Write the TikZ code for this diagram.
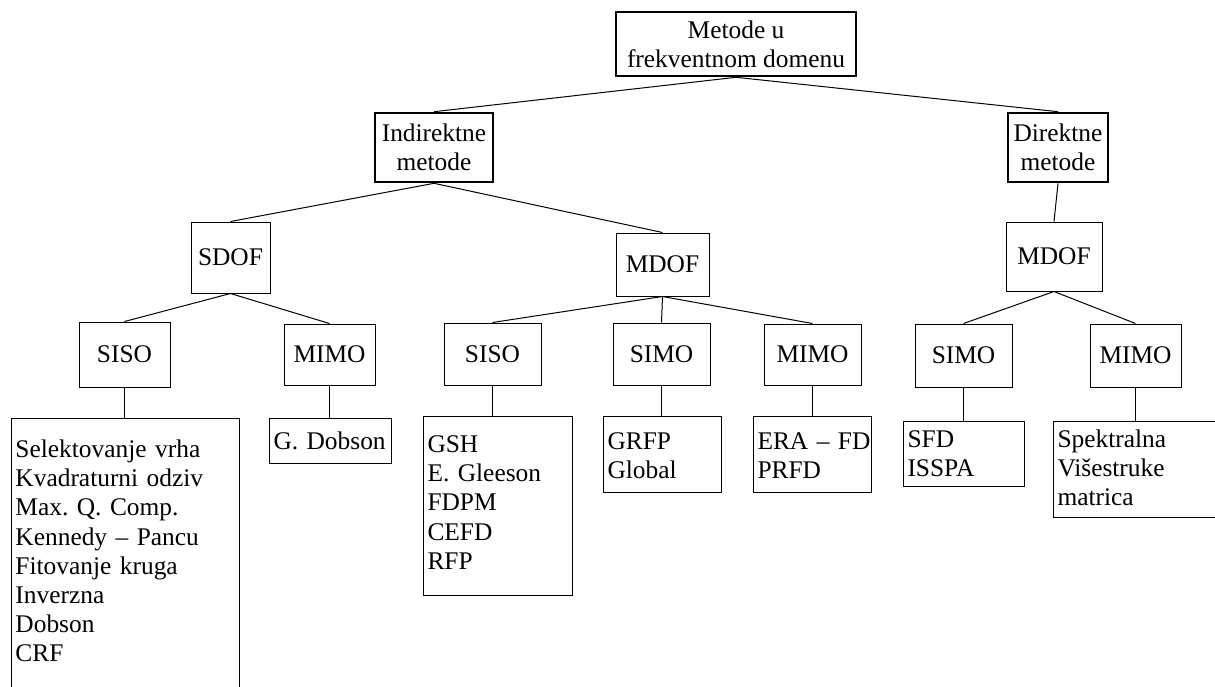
\documentclass[tikz,border=0pt]{standalone}
\usepackage{fontspec}
\setmainfont{Liberation Serif}
\usepackage{tikz}
\frenchspacing

\begin{document}
\begin{tikzpicture}[x=0.5pt,y=-0.5pt,
	every node/.style={font=\fontsize{12.7}{14.6}\selectfont},
	box/.style={draw,line width=0.5pt,align=center,inner sep=0pt},
	main/.style={box,line width=1.3pt},
	leaf/.style={draw,line width=0.5pt,anchor=north west,align=left,inner xsep=2pt,inner ysep=0pt},
	conn/.style={line width=0.5pt}]
	\useasboundingbox (0,0) rectangle (1215,686);
	\node[main,minimum width=120pt,minimum height=32pt] (root) at (736,44) {Metode u\\frekventnom domenu};
	\node[main,minimum width=59pt,minimum height=34.5pt] (ind) at (434,147.5) {Indirektne\\metode};
	\node[main,minimum width=50pt,minimum height=34.5pt] (dir) at (1058,147.5) {Direktne\\metode};
	\node[box,minimum width=39.5pt,minimum height=35.5pt] (sdof) at (230.5,257.5) {SDOF};
	\node[box,minimum width=46.5pt,minimum height=31.5pt] (mdof1) at (662.5,264.5) {MDOF};
	\node[box,minimum width=48pt,minimum height=34.5pt] (mdof2) at (1054,256.5) {MDOF};
	\node[box,minimum width=45.5pt,minimum height=32.5pt] (siso1) at (124.5,354.5) {SISO};
	\node[box,minimum width=45.5pt,minimum height=30.5pt] (mimo1) at (329.5,354.5) {MIMO};
	\node[box,minimum width=48.5pt,minimum height=31pt] (siso2) at (492.5,354) {SISO};
	\node[box,minimum width=48.5pt,minimum height=31pt] (simo1) at (661.5,354) {SIMO};
	\node[box,minimum width=48.5pt,minimum height=30.5pt] (mimo2) at (812.5,354.5) {MIMO};
	\node[box,minimum width=48.5pt,minimum height=31.5pt] (simo2) at (963.5,355.5) {SIMO};
	\node[box,minimum width=45.5pt,minimum height=31.5pt] (mimo3) at (1135.5,355.5) {MIMO};
	% method lists
	\node[leaf,text width=110pt,text height=19.5pt,text depth=121.5pt] (list1) at (11,418) {Selektovanje vrha\\Kvadraturni odziv\\Max. Q. Comp.\\Kennedy -- Pancu\\Fitovanje kruga\\Inverzna\\Dobson\\CRF};
	\node[leaf,text width=57pt,text height=15.5pt,text depth=7pt] (list2) at (269,418) {\mbox{G. Dobson}};
	\node[leaf,text width=70.5pt,text height=18pt,text depth=71.5pt] (list3) at (423,416) {GSH\\E. Gleeson\\FDPM\\CEFD\\RFP};
	\node[leaf,text width=55pt,text height=16.5pt,text depth=21.5pt] (list4) at (603,416) {GRFP\\Global};
	\node[leaf,text width=55pt,text height=16.5pt,text depth=21.5pt] (list5) at (753,416) {\mbox{ERA -- FD}\\PRFD};
	\node[leaf,text width=56.5pt,text height=13pt,text depth=19.5pt] (list6) at (903,421) {SFD\\ISSPA};
	\node[leaf,text width=86pt,text height=13pt,text depth=35pt] (list7) at (1053,421) {Spektralna\\Višestruke\\matrica};
	\draw[conn] (root.south) -- (ind.north);
	\draw[conn] (root.south) -- (dir.north);
	\draw[conn] (ind.south) -- (sdof.north);
	\draw[conn] (ind.south) -- (mdof1.north);
	\draw[conn] (dir.south) -- (mdof2.north);
	\draw[conn] (sdof.south) -- (siso1.north);
	\draw[conn] (sdof.south) -- (mimo1.north);
	\draw[conn] (mdof1.south) -- (siso2.north);
	\draw[conn] (mdof1.south) -- (simo1.north);
	\draw[conn] (mdof1.south) -- (mimo2.north);
	\draw[conn] (mdof2.south) -- (simo2.north);
	\draw[conn] (mdof2.south) -- (mimo3.north);
	\draw[conn] (siso1.south) -- (siso1.south |- list1.north);
	\draw[conn] (mimo1.south) -- (mimo1.south |- list2.north);
	\draw[conn] (siso2.south) -- (siso2.south |- list3.north);
	\draw[conn] (simo1.south) -- (simo1.south |- list4.north);
	\draw[conn] (mimo2.south) -- (mimo2.south |- list5.north);
	\draw[conn] (simo2.south) -- (simo2.south |- list6.north);
	\draw[conn] (mimo3.south) -- (mimo3.south |- list7.north);
\end{tikzpicture}
\end{document}
